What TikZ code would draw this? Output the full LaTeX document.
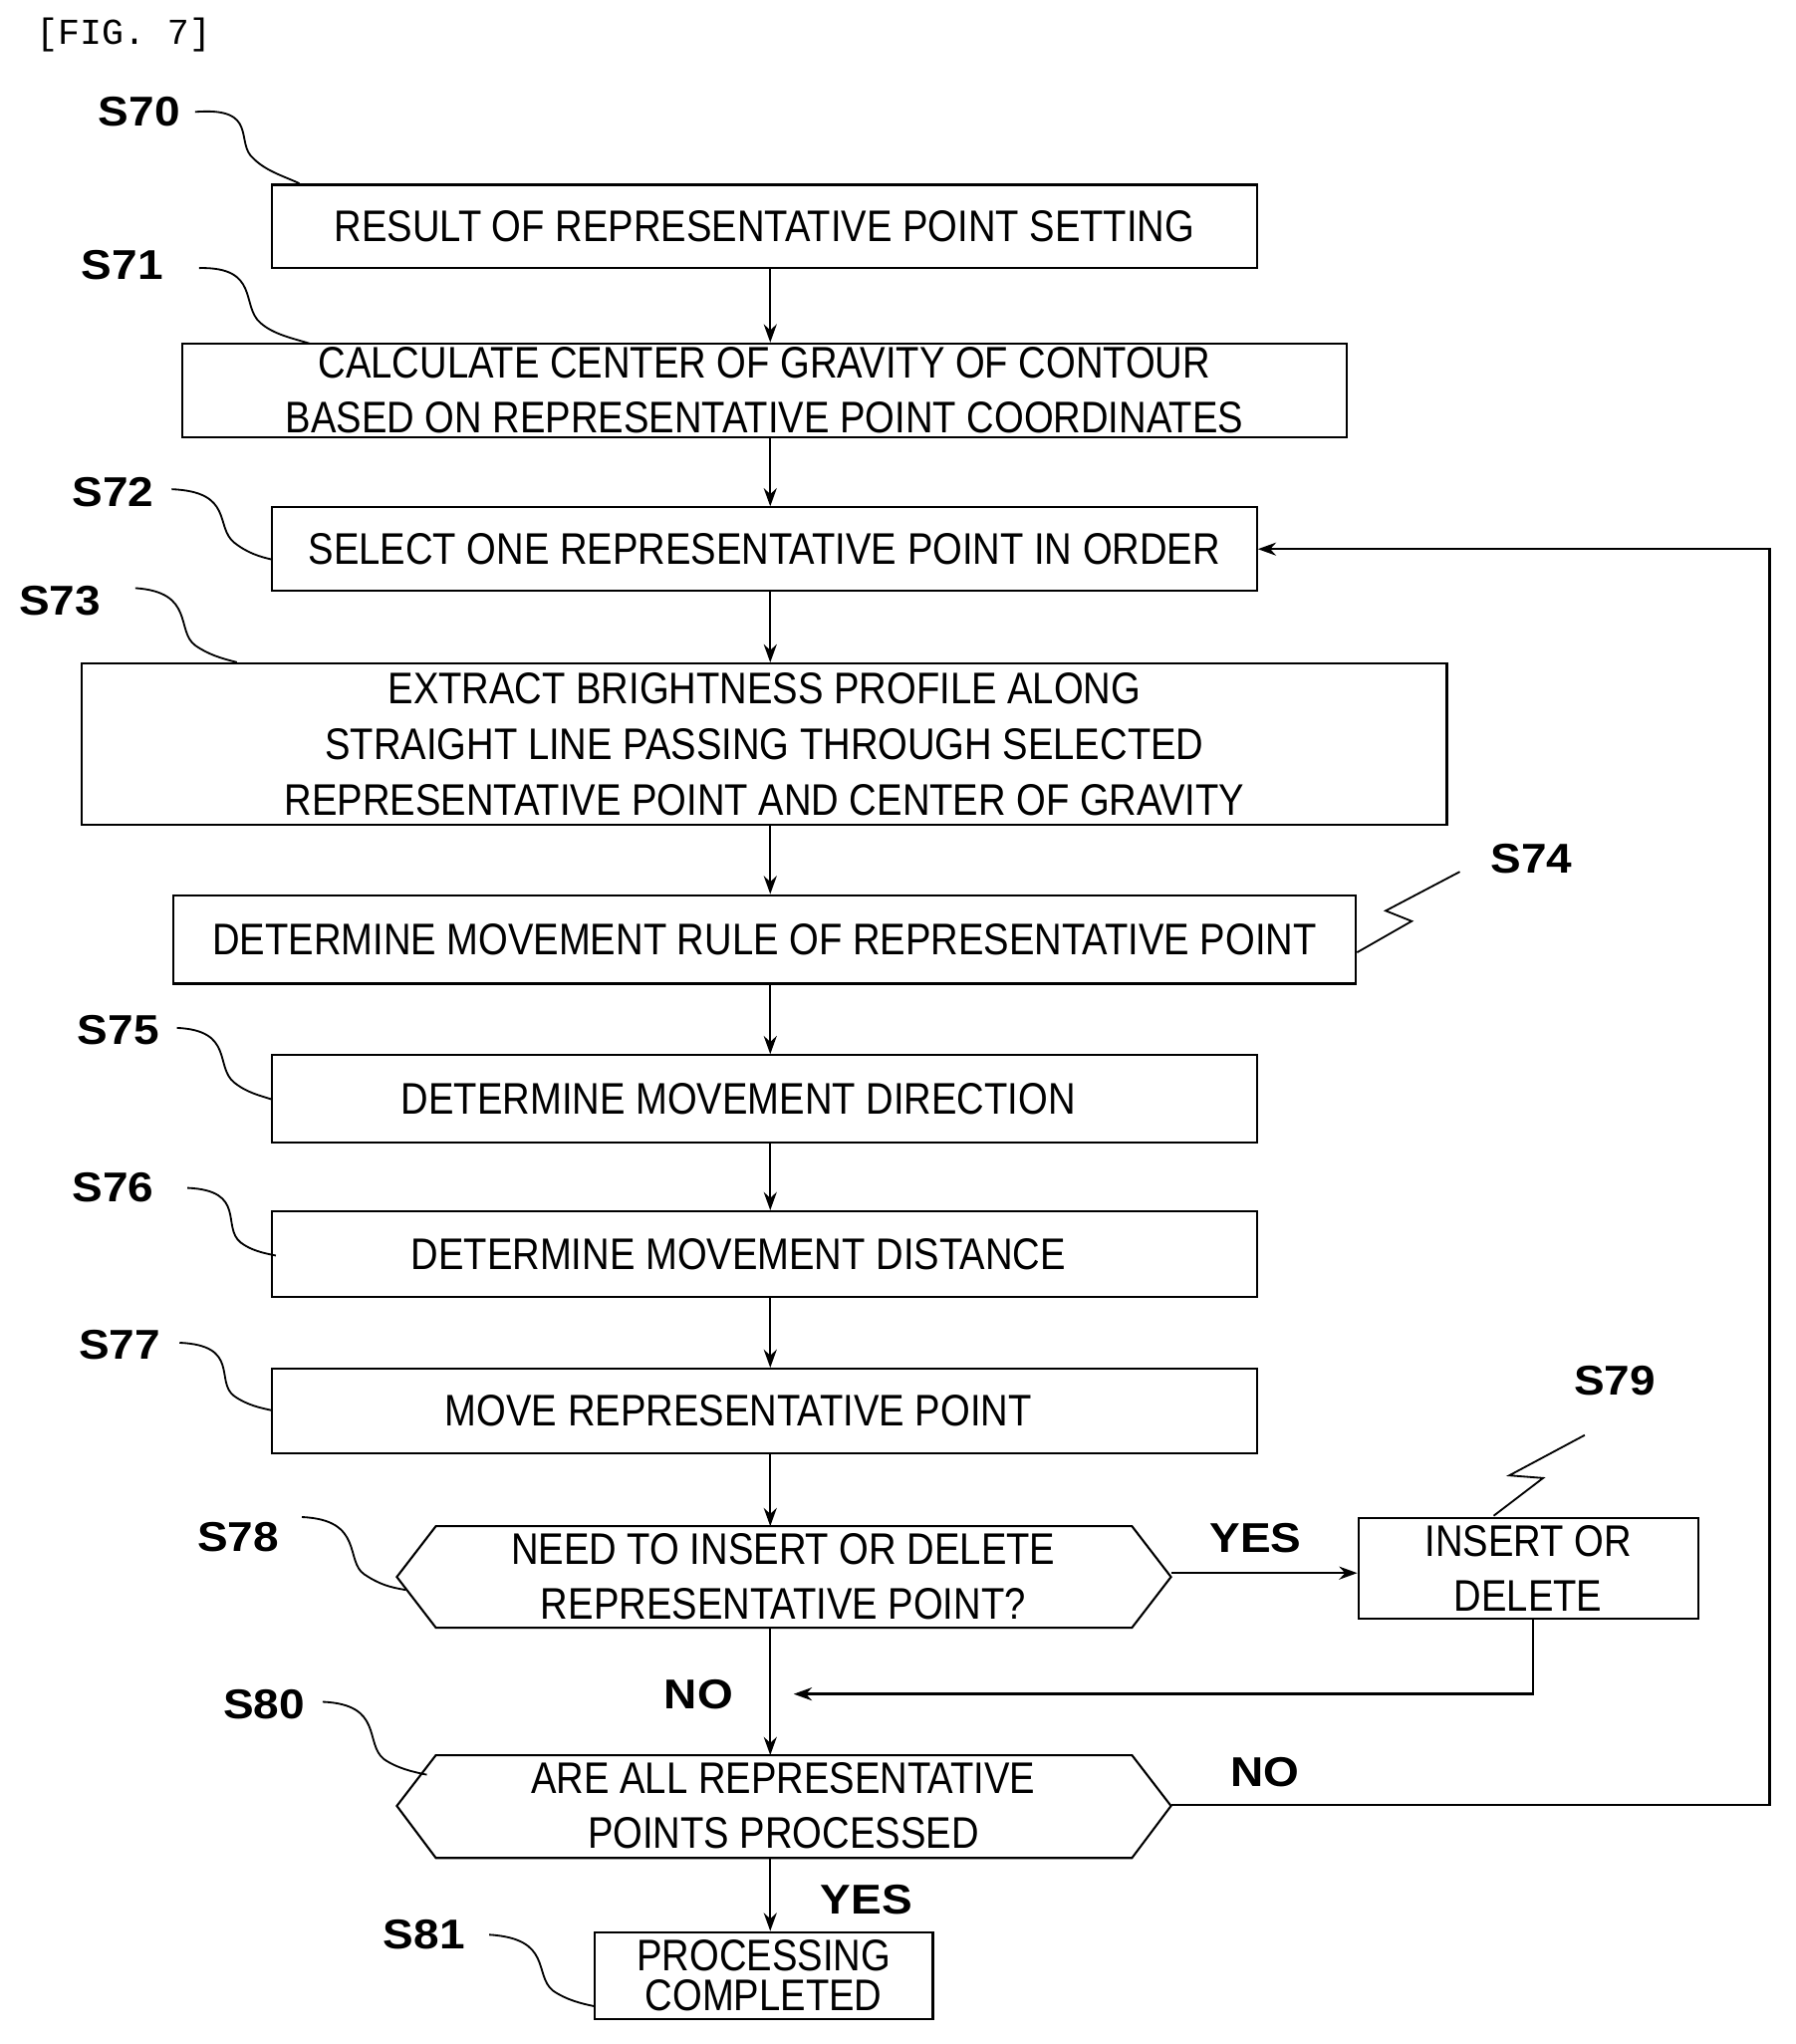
\documentclass[tikz,border=0pt]{standalone}
\usepackage{fontspec}
\setmainfont{Liberation Sans}[FakeStretch=0.86]
\newfontfamily\labfont{Liberation Sans}[FakeStretch=1.1]
\setmonofont{Liberation Mono}
\usetikzlibrary{arrows.meta}
\begin{document}
\begin{tikzpicture}[x=0.5pt,y=-0.5pt,
  bx/.style={draw,line width=0.8pt,inner sep=0pt,align=center,font=\fontsize{17}{21}\selectfont},
  ar/.style={line width=0.9pt,-{Stealth[length=7pt,width=5pt]}},
  lab/.style={font=\labfont\bfseries\fontsize{16}{18}\selectfont},
  ld/.style={line width=0.7pt}]
\useasboundingbox (0,0) rectangle (1380,1571);
\node[font=\ttfamily\fontsize{14}{16}\selectfont] (fig) at (95,27) {[FIG. 7]};
\newcommand\bxx[6]{\node[bx,minimum width={(#4-#2)*0.5pt},minimum height={(#5-#3)*0.5pt}] (#1) at ({(#2+#4)/2},{(#3+#5)/2}) {#6};}
\bxx{s70}{209}{142}{966}{206}{RESULT OF REPRESENTATIVE POINT SETTING}
\bxx{s71}{140}{264}{1035}{336}{CALCULATE CENTER OF GRAVITY OF CONTOUR\\BASED ON REPRESENTATIVE POINT COORDINATES}
\bxx{s72}{209}{390}{966}{454}{SELECT ONE REPRESENTATIVE POINT IN ORDER}
\node[bx,minimum width=524.5pt,minimum height=62pt,font=\fontsize{17}{21.5}\selectfont] (s73) at (587.5,572) {EXTRACT BRIGHTNESS PROFILE ALONG\\STRAIGHT LINE PASSING THROUGH SELECTED\\REPRESENTATIVE POINT AND CENTER OF GRAVITY};
\bxx{s74}{133}{688}{1042}{756}{DETERMINE MOVEMENT RULE OF REPRESENTATIVE POINT}
\bxx{s75}{209}{811}{966}{878}{\hspace*{-20pt}DETERMINE MOVEMENT DIRECTION}
\bxx{s76}{209}{931}{966}{997}{\hspace*{-20pt}DETERMINE MOVEMENT DISTANCE}
\bxx{s77}{209}{1052}{966}{1117}{\hspace*{-20pt}MOVE REPRESENTATIVE POINT}
\bxx{s79}{1044}{1167}{1305}{1244}{INSERT OR\\DELETE}
\node[bx,minimum width=130pt,minimum height=33.5pt,font=\fontsize{17}{15.5}\selectfont] (s81) at (587,1518.5) {PROCESSING\\COMPLETED};
% hexagons
\draw[line width=0.8pt] (305,1212)--(335,1173)--(870,1173)--(900,1212)--(870,1251)--(335,1251)--cycle;
\node[font=\fontsize{17}{21}\selectfont,align=center] (s78) at (602,1212) {NEED TO INSERT OR DELETE\\REPRESENTATIVE POINT?};
\draw[line width=0.8pt] (305,1388)--(335,1349)--(870,1349)--(900,1388)--(870,1428)--(335,1428)--cycle;
\node[font=\fontsize{17}{21}\selectfont,align=center] (s80) at (602,1388) {ARE ALL REPRESENTATIVE\\POINTS PROCESSED};
\coordinate (col) at (592,0);
\coordinate (s78t) at (592,1173); \coordinate (s78b) at (592,1251);
\coordinate (s78r) at (900,1209); \coordinate (s80t) at (592,1349);
\coordinate (s80b) at (592,1428); \coordinate (s80r) at (900,1387);
% arrows
\draw[ar] (s70.south -| col) -- (s71.north -| col);
\draw[ar] (s71.south -| col) -- (s72.north -| col);
\draw[ar] (s72.south -| col) -- (s73.north -| col);
\draw[ar] (s73.south -| col) -- (s74.north -| col);
\draw[ar] (s74.south -| col) -- (s75.north -| col);
\draw[ar] (s75.south -| col) -- (s76.north -| col);
\draw[ar] (s76.south -| col) -- (s77.north -| col);
\draw[ar] (s77.south -| col) -- (s78t);
\draw[ar] (s78b) -- (s80t);
\draw[ar] (s78r) -- (s79.west |- s78r);
\coordinate (c1) at (1178,1302); \coordinate (c2) at (610,1302);
\draw[ar] (s79.south -| c1) -- (c1) -- (c2);
\coordinate (c3) at (1360,1387); \coordinate (c4) at (1360,422);
\draw[ar] (s80r) -- (c3) -- (c4) -- (s72.east);
\draw[ar] (s80b) -- (s81.north -| s80b);
% edge labels
\node[lab] (y1) at (965,1182) {YES};
\node[lab] (n1) at (537,1302) {NO};
\node[lab] (n2) at (972,1362) {NO};
\node[lab] (y2) at (666,1460) {YES};
% step labels with leaders
\node[lab] (l70) at (107,86) {S70};
\draw[ld] (150,86) .. controls (200,82) and (180,110) .. (195,122) .. controls (205,132) and (220,136) .. (230,141);
\node[lab] (l71) at (94,204) {S71};
\draw[ld] (153,206) .. controls (200,205) and (185,235) .. (200,248) .. controls (210,257) and (225,260) .. (238,264);
\node[lab] (l72) at (87,378) {S72};
\draw[ld] (132,376) .. controls (180,378) and (165,405) .. (180,417) .. controls (190,425) and (200,428) .. (209,430);
\node[lab] (l73) at (46,462) {S73};
\draw[ld] (104,452) .. controls (150,455) and (135,485) .. (150,496) .. controls (160,503) and (170,506) .. (182,509);
\node[lab] (l74) at (1177,660) {S74};
\draw[ld] (1122,670) -- (1065,700) -- (1085,708) -- (1043,732);
\node[lab] (l75) at (91,792) {S75};
\draw[ld] (136,790) .. controls (180,792) and (165,820) .. (180,832) .. controls (190,840) and (200,842) .. (209,845);
\node[lab] (l76) at (87,913) {S76};
\draw[ld] (144,913) .. controls (190,915) and (170,943) .. (185,955) .. controls (193,961) and (202,963) .. (212,965);
\node[lab] (l77) at (92,1034) {S77};
\draw[ld] (138,1032) .. controls (185,1034) and (165,1062) .. (180,1073) .. controls (190,1080) and (200,1082) .. (209,1084);
\node[lab] (l78) at (183,1181) {S78};
\draw[ld] (232,1166) .. controls (280,1168) and (265,1200) .. (280,1210) .. controls (292,1218) and (300,1220) .. (312,1222);
\node[lab] (l79) at (1241,1061) {S79};
\draw[ld] (1218,1103) -- (1160,1134) -- (1186,1136) -- (1148,1165);
\node[lab] (l80) at (203,1310) {S80};
\draw[ld] (248,1308) .. controls (295,1310) and (280,1340) .. (295,1352) .. controls (305,1359) and (318,1362) .. (328,1364);
\node[lab] (l81) at (326,1487) {S81};
\draw[ld] (376,1487) .. controls (425,1490) and (410,1518) .. (425,1530) .. controls (435,1537) and (447,1540) .. (457,1542);
\end{tikzpicture}
\end{document}
